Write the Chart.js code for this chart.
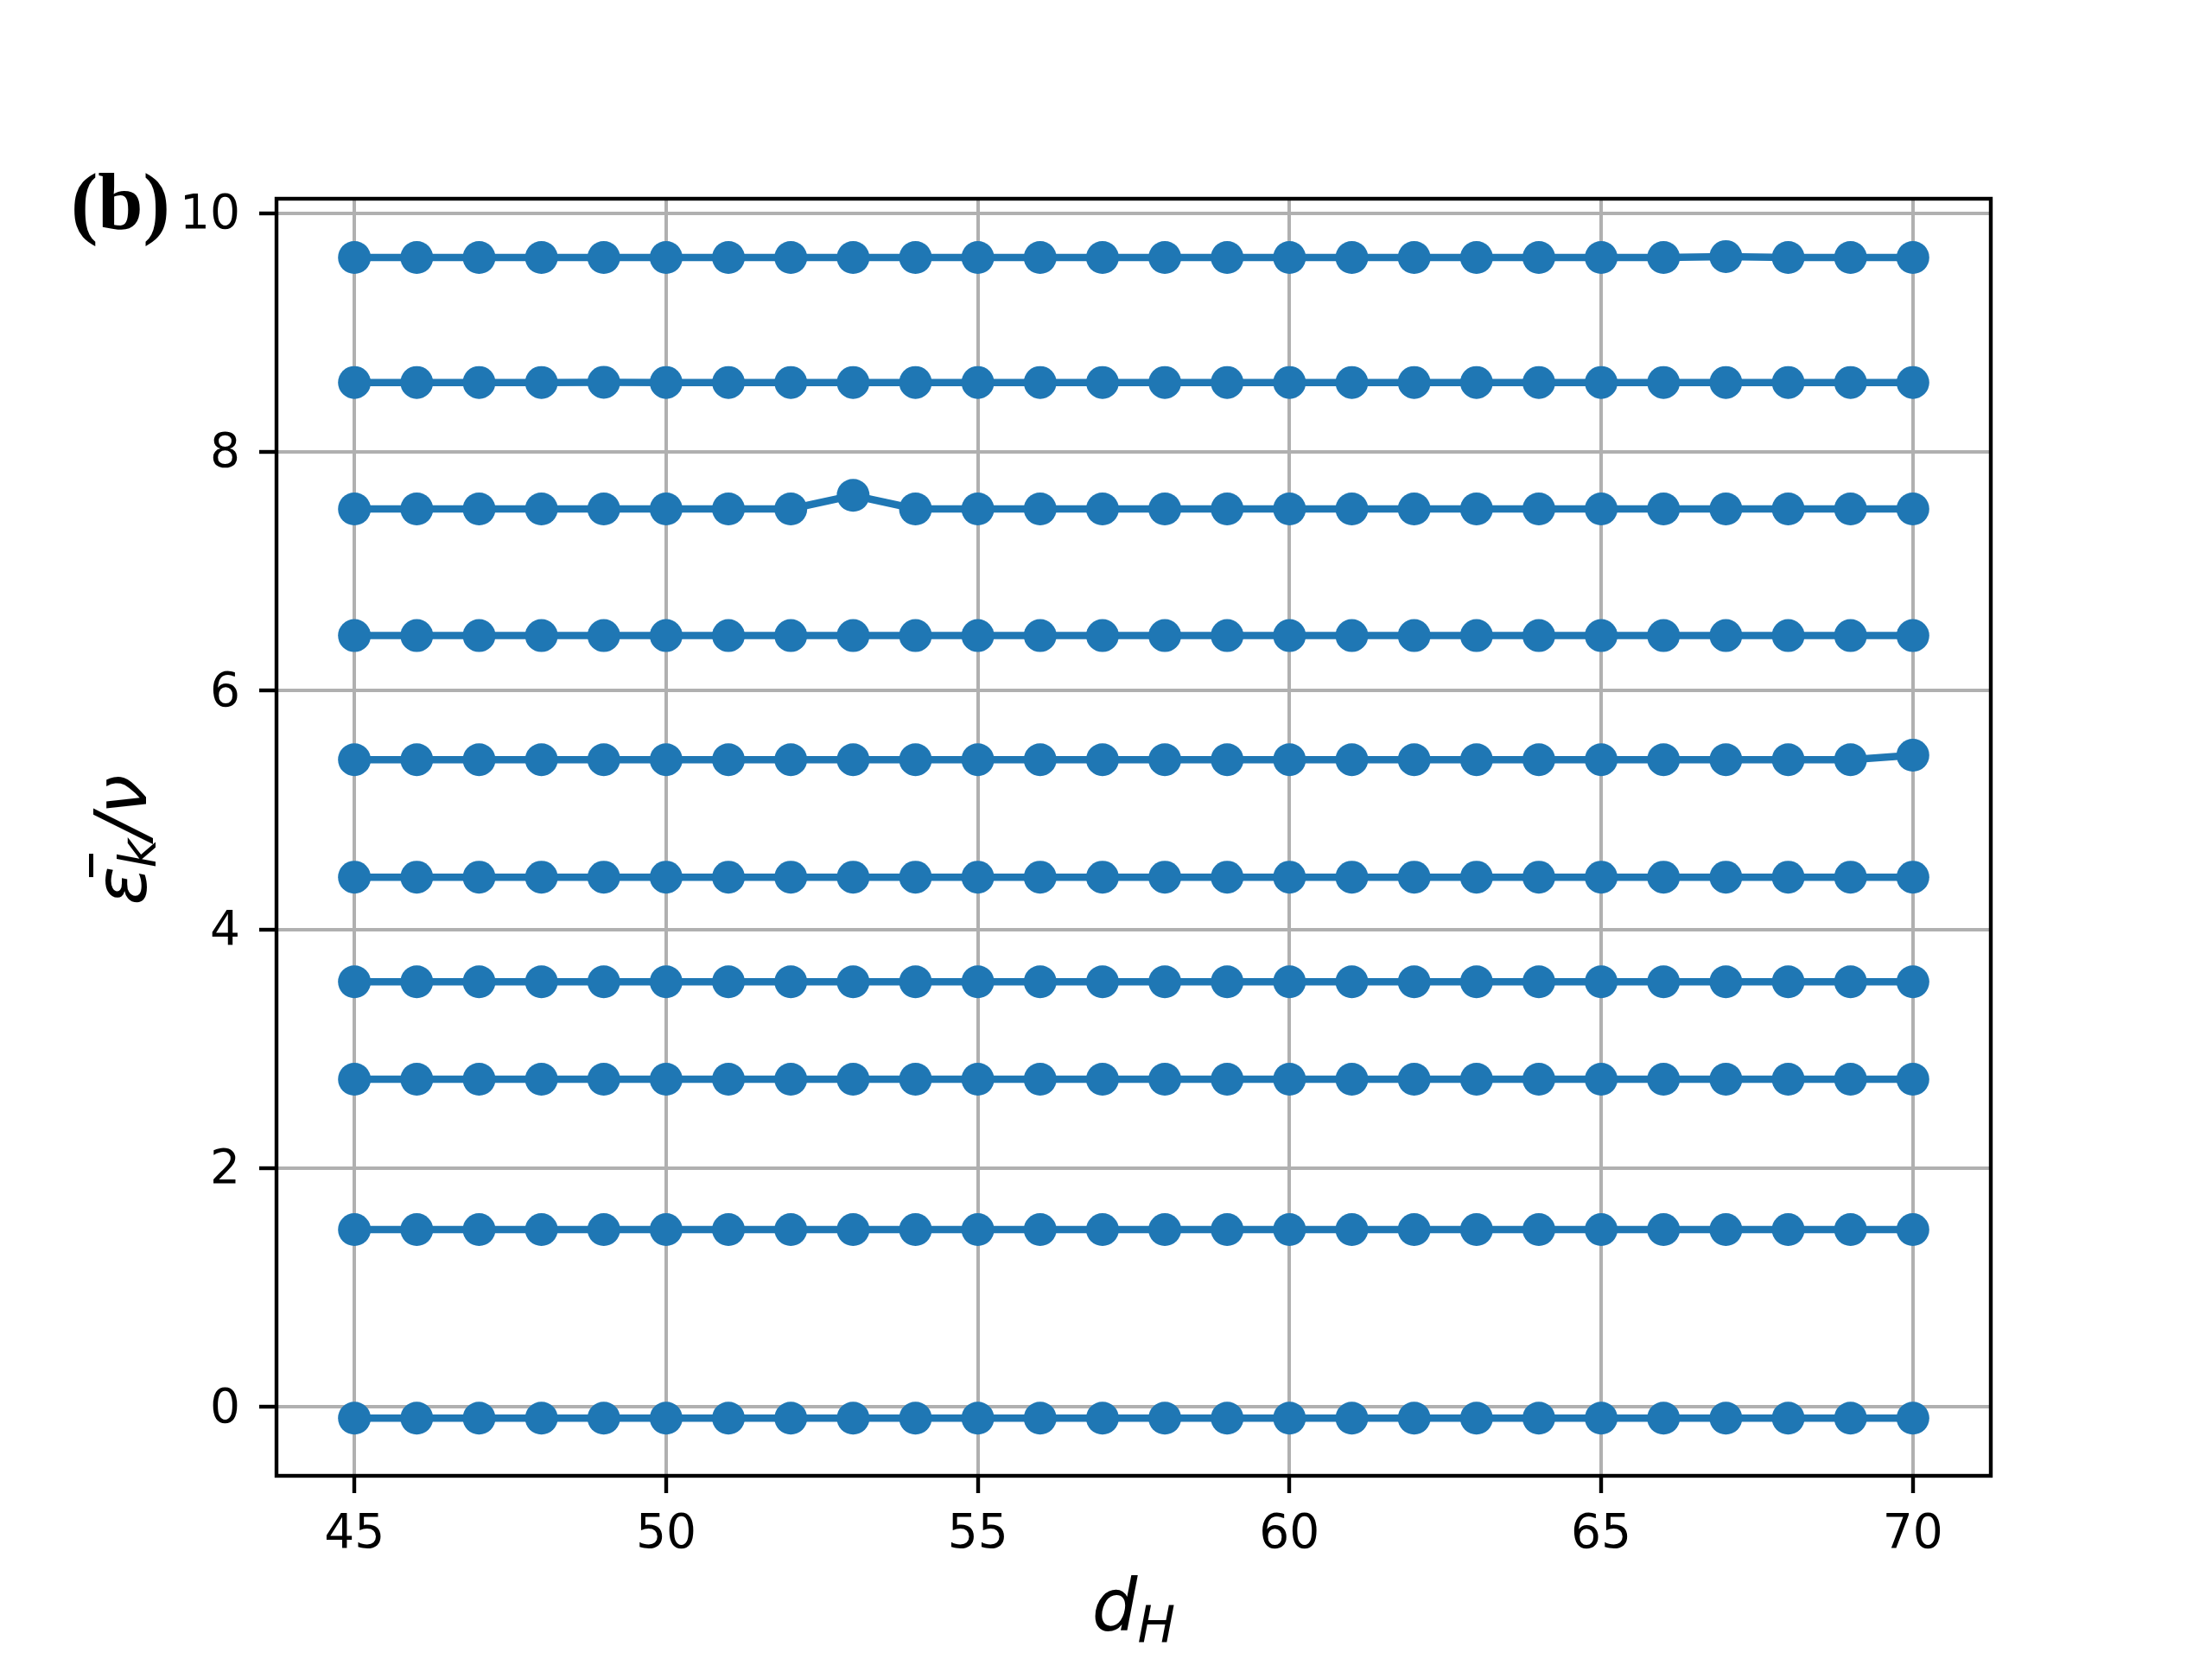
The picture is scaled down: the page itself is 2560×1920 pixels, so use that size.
<!DOCTYPE html>
<html>
<head>
    <title>Eigenvalues vs d_H</title>
    <script src="https://cdn.jsdelivr.net/npm/chart.js"></script>
    <style>
        body {
            margin: 0;
            background-color: #ffffff;
        }

        #wrap {
            width: 2560px;
            height: 1920px;
        }
    </style>
</head>
<body>
    <div id="wrap"><canvas id="chart" width="2560" height="1920"></canvas></div>

    <script>
        // d_H values (x axis)
        const dH = [45, 46, 47, 48, 49, 50, 51, 52, 53, 54, 55, 56, 57, 58, 59, 60, 61, 62, 63, 64, 65, 66, 67, 68, 69, 70];

        // one array per level (top to bottom)
        const level1 = [9.628, 9.628, 9.628, 9.628, 9.628, 9.628, 9.628, 9.628, 9.628, 9.628, 9.628, 9.628, 9.628, 9.628, 9.628, 9.628, 9.628, 9.628, 9.628, 9.628, 9.628, 9.628, 9.636, 9.628, 9.628, 9.628];
        const level2 = [8.581, 8.581, 8.581, 8.581, 8.583, 8.581, 8.581, 8.581, 8.581, 8.581, 8.581, 8.581, 8.581, 8.581, 8.581, 8.581, 8.581, 8.581, 8.581, 8.581, 8.581, 8.581, 8.581, 8.581, 8.581, 8.581];
        const level3 = [7.522, 7.522, 7.522, 7.522, 7.522, 7.522, 7.522, 7.522, 7.636, 7.522, 7.522, 7.522, 7.522, 7.522, 7.522, 7.522, 7.522, 7.522, 7.522, 7.522, 7.522, 7.522, 7.522, 7.522, 7.522, 7.522];
        const level4 = [6.461, 6.461, 6.461, 6.461, 6.461, 6.461, 6.461, 6.461, 6.461, 6.461, 6.461, 6.461, 6.461, 6.461, 6.461, 6.461, 6.461, 6.461, 6.461, 6.461, 6.461, 6.461, 6.461, 6.461, 6.461, 6.461];
        const level5 = [5.422, 5.422, 5.422, 5.422, 5.422, 5.422, 5.422, 5.422, 5.422, 5.422, 5.422, 5.422, 5.422, 5.422, 5.422, 5.422, 5.422, 5.422, 5.422, 5.422, 5.422, 5.422, 5.422, 5.422, 5.422, 5.459];
        const level6 = [4.438, 4.438, 4.438, 4.438, 4.438, 4.438, 4.438, 4.438, 4.438, 4.438, 4.438, 4.438, 4.438, 4.438, 4.438, 4.438, 4.438, 4.438, 4.438, 4.438, 4.438, 4.438, 4.438, 4.438, 4.438, 4.438];
        const level7 = [3.562, 3.562, 3.562, 3.562, 3.562, 3.562, 3.562, 3.562, 3.562, 3.562, 3.562, 3.562, 3.562, 3.562, 3.562, 3.562, 3.562, 3.562, 3.562, 3.562, 3.562, 3.562, 3.562, 3.562, 3.562, 3.562];
        const level8 = [2.746, 2.746, 2.746, 2.746, 2.746, 2.746, 2.746, 2.746, 2.746, 2.746, 2.746, 2.746, 2.746, 2.746, 2.746, 2.746, 2.746, 2.746, 2.746, 2.746, 2.746, 2.746, 2.746, 2.746, 2.746, 2.746];
        const level9 = [1.486, 1.486, 1.486, 1.486, 1.486, 1.486, 1.486, 1.486, 1.486, 1.486, 1.486, 1.486, 1.486, 1.486, 1.486, 1.486, 1.486, 1.486, 1.486, 1.486, 1.486, 1.486, 1.486, 1.486, 1.486, 1.486];
        const level10 = [-0.093, -0.093, -0.093, -0.093, -0.093, -0.093, -0.093, -0.093, -0.093, -0.093, -0.093, -0.093, -0.093, -0.093, -0.093, -0.093, -0.093, -0.093, -0.093, -0.093, -0.093, -0.093, -0.093, -0.093, -0.093, -0.093];

        // tick labels
        const xTicks = [45, 50, 55, 60, 65, 70];
        const yTicks = [0, 2, 4, 6, 8, 10];

        const levels = [level1, level2, level3, level4, level5, level6, level7, level8, level9, level10];
        const blue = '#1f77b4';

        const datasets = levels.map((vals, k) => ({
            label: 'k' + k,
            data: dH.map((x, i) => ({ x: x, y: vals[i] })),
            borderColor: blue,
            backgroundColor: blue,
            borderWidth: 8.5,
            pointRadius: 19,
            pointBorderWidth: 0,
            pointBackgroundColor: blue,
            tension: 0,
            fill: false
        }));

        // frame, panel tag and the math axis labels
        const decorPlugin = {
            id: 'decor',
            afterDraw(chart) {
                const ctx = chart.ctx;
                const a = chart.chartArea;
                ctx.save();

                ctx.strokeStyle = '#000';
                ctx.lineWidth = 4.4;
                ctx.strokeRect(a.left, a.top, a.right - a.left, a.bottom - a.top);

                ctx.fillStyle = '#000';
                ctx.textBaseline = 'alphabetic';

                // (b)
                ctx.font = 'bold 94px "Liberation Serif"';
                ctx.textAlign = 'left';
                ctx.fillText('(b)', 82, 265);

                // x label: d_H
                const big = 'italic 83px "DejaVu Sans"';
                const small = 'italic 58px "DejaVu Sans"';
                ctx.font = big;
                const wd = ctx.measureText('d').width;
                ctx.font = small;
                const wH = ctx.measureText('H').width;
                let x0 = (a.left + a.right) / 2 - (wd + wH) / 2;
                ctx.font = big;
                ctx.fillText('d', x0, 1887);
                ctx.font = small;
                ctx.fillText('H', x0 + wd, 1900);

                // y label: eps-bar_k / nu, rotated
                ctx.translate(169, (a.top + a.bottom) / 2 + 2);
                ctx.rotate(-Math.PI / 2);
                ctx.font = big;
                const wEps = ctx.measureText('ε').width;
                const wSlash = ctx.measureText('/').width;
                const wNu = ctx.measureText('ν').width;
                ctx.font = small;
                const wK = ctx.measureText('k').width;
                const total = wEps + wK + wSlash + wNu;
                let p = -total / 2;
                ctx.font = big;
                ctx.fillText('ε', p, 0);
                ctx.fillRect(p + wEps * 0.72, -66, 27, 5);
                p += wEps;
                ctx.font = small;
                ctx.fillText('k', p - 2, 11);
                p += wK - 2;
                ctx.font = big;
                ctx.fillText('/', p, 0);
                p += wSlash;
                ctx.fillText('ν', p, 0);

                ctx.restore();
            }
        };

        const tickFont = { family: 'DejaVu Sans', size: 55 };

        new Chart(document.getElementById('chart').getContext('2d'), {
            type: 'line',
            data: { datasets: datasets },
            options: {
                responsive: false,
                devicePixelRatio: 1,
                animation: false,
                layout: {
                    padding: { left: 0, top: 230, right: 256, bottom: 0 }
                },
                plugins: {
                    legend: { display: false },
                    tooltip: { enabled: false }
                },
                scales: {
                    x: {
                        type: 'linear',
                        min: 43.75,
                        max: 71.25,
                        afterBuildTicks: s => { s.ticks = xTicks.map(v => ({ value: v })); },
                        afterFit: s => { s.height = 212; },
                        border: { display: false },
                        grid: {
                            color: '#b0b0b0',
                            lineWidth: 4,
                            tickColor: '#000',
                            tickLength: 20,
                            tickWidth: 4.4
                        },
                        ticks: {
                            color: '#000',
                            font: tickFont,
                            padding: 16,
                            maxRotation: 0,
                            autoSkip: false
                        }
                    },
                    y: {
                        min: -0.576,
                        max: 10.12,
                        afterBuildTicks: s => { s.ticks = yTicks.map(v => ({ value: v })); },
                        afterFit: s => { s.width = 320; },
                        border: { display: false },
                        grid: {
                            color: '#b0b0b0',
                            lineWidth: 4,
                            tickColor: '#000',
                            tickLength: 20,
                            tickWidth: 4.4
                        },
                        ticks: {
                            color: '#000',
                            font: tickFont,
                            padding: 22,
                            labelOffset: 3,
                            autoSkip: false
                        }
                    }
                }
            },
            plugins: [decorPlugin]
        });
    </script>
</body>
</html>
